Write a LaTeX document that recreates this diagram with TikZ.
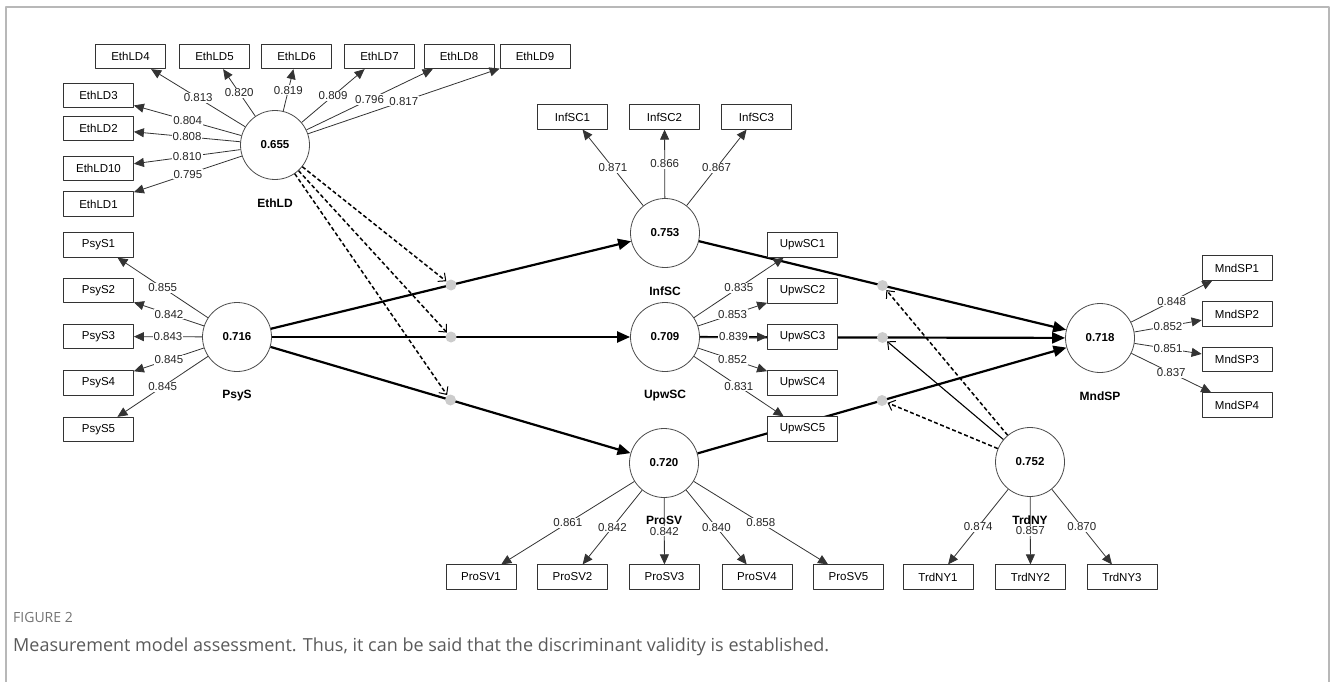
\documentclass[tikz,border=0pt]{standalone}
\usepackage{fontspec}
\setmainfont{Liberation Sans}
\newfontfamily\capfont{Open Sans}
\usetikzlibrary{arrows.meta}
\definecolor{framegray}{HTML}{B8B8B8}
\definecolor{capgray}{HTML}{5A5A5A}
\begin{document}
\begin{tikzpicture}[x=1pt, y=-1pt, font=\fontsize{11.5}{13}\selectfont, line join=round, >={Triangle[length=10pt,width=9pt]}]
\tikzset{
	lat/.style={circle, draw=black!70, line width=.8pt, minimum size=69pt, inner sep=0pt, font=\fontsize{11.5}{13}\selectfont\bfseries},
	latname/.style={font=\fontsize{12}{14}\selectfont\bfseries, label distance=15pt},
	ind/.style={draw=black!80, fill=white, line width=.8pt, minimum width=70pt, minimum height=24.5pt, inner sep=0pt},
	ld/.style={draw=black!80, line width=.8pt, ->},
	lv/.style={midway, fill=white, inner sep=1pt, text=black!85},
	struct/.style={line width=2.2pt, -{Triangle[length=13pt,width=11pt]}},
	mod/.style={line width=1.5pt, dash pattern=on 4pt off 2.5pt, -{Straight Barb[length=6pt,width=11pt,line width=1pt]}, shorten >=6pt},
	mdot/.style={circle, fill=black!20, minimum size=11pt, inner sep=0pt},
}
\useasboundingbox (0,0) rectangle (1330,682);
\draw[framegray, line width=1.5pt] (6,682) -- (6,7) -- (1329,7) -- (1329,682);

% constructs
\node[lat, label={[latname]below:EthLD}] (EthLD) at (275,145) {0.655};
\node[lat, label={[latname]below:PsyS}] (PsyS) at (237,337) {0.716};
\node[lat, label={[latname]below:InfSC}] (InfSC) at (665,233) {0.753};
\node[lat, label={[latname]below:UpwSC}] (UpwSC) at (665,337) {0.709};
\node[lat, label={[latname]below:ProSV}] (ProSV) at (664,463) {0.720};
\node[lat, label={[latname]below:MndSP}] (MndSP) at (1100,338) {0.718};
\node[lat, label={[latname]below:TrdNY}] (TrdNY) at (1030,462) {0.752};

% inner model
\draw[struct] (PsyS) -- coordinate (m1) (InfSC);
\draw[struct] (PsyS) -- coordinate (m2) (UpwSC);
\draw[struct] (PsyS) -- coordinate (m3) (ProSV);
\draw[struct] (InfSC) -- coordinate (m4) (MndSP);
\draw[struct] (UpwSC) -- coordinate (m5) (MndSP);
\draw[struct] (ProSV) -- coordinate (m6) (MndSP);
\foreach \m in {1,...,6} \node[mdot] (dot\m) at (m\m) {};

% outer model
\foreach \i/\x/\y/\v in {4/130.5/56.5/0.813, 5/214.5/56.5/0.820, 6/296.5/56.5/0.819, 7/379.5/56.5/0.809, 8/459/56.5/0.796, 9/535/56.5/0.817, 3/98.5/95.5/0.804, 2/98.5/128.5/0.808, 10/98.5/168.5/0.810, 1/98.5/204/0.795}{
	\node[ind] (EthLD\i) at (\x,\y) {EthLD\i};
	\draw[ld] (EthLD) -- (EthLD\i) node[lv] {\v};
}
\foreach \i/\y/\v in {1/245/0.855, 2/290.5/0.842, 3/336.5/0.843, 4/383/0.845, 5/429.5/0.845}{
	\node[ind] (PsyS\i) at (98.5,\y) {PsyS\i};
	\draw[ld] (PsyS) -- (PsyS\i) node[lv] {\v};
}
\foreach \i/\x/\v in {1/572.5/0.871, 2/664.5/0.866, 3/756.5/0.867}{
	\node[ind] (InfSC\i) at (\x,117) {InfSC\i};
	\draw[ld] (InfSC) -- (InfSC\i) node[lv] {\v};
}
\foreach \i/\y/\v in {1/245/0.835, 2/291/0.853, 3/337/0.839, 4/383/0.852, 5/429/0.831}{
	\node[ind] (UpwSC\i) at (802.5,\y) {UpwSC\i};
	\draw[ld] (UpwSC) -- (UpwSC\i) node[lv] {\v};
}
\foreach \i/\x/\v in {1/481/0.861, 2/572.5/0.842, 3/664.5/0.842, 4/757/0.840, 5/848.5/0.858}{
	\node[ind] (ProSV\i) at (\x,577) {ProSV\i};
	\draw[ld] (ProSV) -- (ProSV\i) node[lv] {\v};
}
\foreach \i/\x/\v in {1/938/0.874, 2/1030.5/0.857, 3/1122/0.870}{
	\node[ind] (TrdNY\i) at (\x,577) {TrdNY\i};
	\draw[ld] (TrdNY) -- (TrdNY\i) node[lv] {\v};
}
\foreach \i/\y/\v in {1/268/0.848, 2/314/0.852, 3/359.5/0.851, 4/405/0.837}{
	\node[ind] (MndSP\i) at (1237,\y) {MndSP\i};
	\draw[ld] (MndSP) -- (MndSP\i) node[lv] {\v};
}

% moderating effects
\foreach \m in {1,2,3} \draw[mod] (EthLD) -- (m\m);
\draw[mod] (TrdNY) -- (m4);
\draw[mod, solid, line width=1.1pt] (TrdNY) -- (m5);
\draw[mod] (TrdNY) -- (m6);

% caption
\node[anchor=base west, inner sep=0pt, font=\capfont\fontsize{14}{16}\selectfont, text=capgray!85] (fignum) at (13,622) {FIGURE 2};
\node[anchor=base west, inner sep=0pt, font=\capfont\fontsize{18}{21}\selectfont, text=capgray] (figcap) at (13,651) {Measurement model assessment. Thus, it can be said that the discriminant validity is established.};
\end{tikzpicture}
\end{document}
